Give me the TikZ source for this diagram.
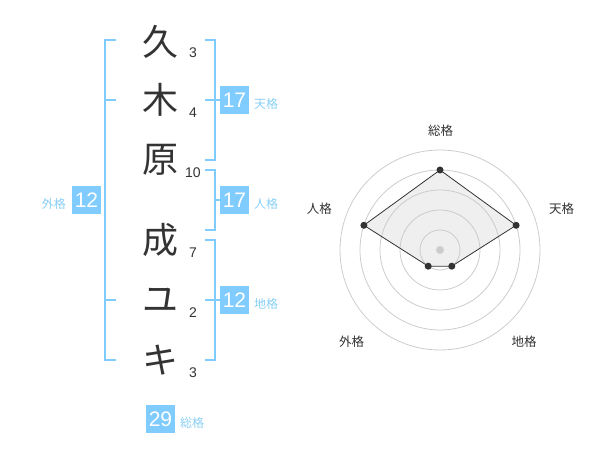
\documentclass[tikz,border=0pt]{standalone}
\usepackage{fontspec}
\setmainfont{Noto Sans CJK JP}
\newfontfamily\cjk{Noto Sans CJK JP}
\newfontfamily\num{Liberation Sans}
\definecolor{blu}{HTML}{80CCFF}
\definecolor{blutext}{HTML}{88CFF5}
\definecolor{ink}{HTML}{333333}
\definecolor{ring}{HTML}{CCCCCC}
\definecolor{polyfill}{HTML}{EFEFEF}
\begin{document}
\begin{tikzpicture}[x=1pt,y=-1pt,
  kanji/.style={font=\cjk\fontsize{36}{36}\selectfont, text=ink, inner sep=0pt},
  strokes/.style={font=\num\fontsize{14}{14}\selectfont, text=ink, inner sep=0pt},
  brk/.style={draw=blu, line width=2pt},
  valbox/.style={fill=blu, text=white, minimum width=29pt, minimum height=28.5pt, inner sep=0pt, font=\num\fontsize{21}{21}\selectfont},
  kaku/.style={text=blutext, font=\cjk\fontsize{12}{12}\selectfont, inner sep=0pt},
  rlabel/.style={text=ink, font=\cjk\fontsize{12.5}{12.5}\selectfont, inner sep=0pt},
  dot/.style={circle, fill=ink, inner sep=0pt, minimum size=7pt}]
\useasboundingbox (0,0) rectangle (600,470);
% characters
\node[kanji] (c1) at (160,42) {久};
\node[kanji] (c2) at (160,100) {木};
\node[kanji] (c3) at (160,160) {原};
\node[kanji] (c4) at (160,240) {成};
\node[kanji] (c5) at (160,300) {ユ};
\node[kanji] (c6) at (160,360) {キ};
\node[strokes] (s1) at (193,53) {3};
\node[strokes] (s2) at (193,113) {4};
\node[strokes] (s3) at (193,173) {10};
\node[strokes] (s4) at (193,253) {7};
\node[strokes] (s5) at (193,313) {2};
\node[strokes] (s6) at (193,373) {3};
% brackets
\draw[brk] (116,40) -- (105,40) -- (105,360) -- (116,360);
\draw[brk] (105,100) -- (116,100);
\draw[brk] (105,300) -- (116,300);
\draw[brk] (205,40) -- (215,40) -- (215,160) -- (205,160);
\draw[brk] (205,100) -- (220,100);
\draw[brk] (205,170) -- (215,170) -- (215,230) -- (205,230);
\draw[brk] (215,200) -- (220,200);
\draw[brk] (205,240) -- (215,240) -- (215,360) -- (205,360);
\draw[brk] (205,300) -- (220,300);
% value boxes
\node[valbox] (ten) at (234.5,100) {17};
\node[kaku, anchor=west] (tenl) at (254,104) {天格};
\node[valbox] (jin) at (234.5,200) {17};
\node[kaku, anchor=west] (jinl) at (254,204) {人格};
\node[valbox] (chi) at (234.5,300) {12};
\node[kaku, anchor=west] (chil) at (254,304) {地格};
\node[valbox] (gai) at (86.5,200) {12};
\node[kaku, anchor=east] (gail) at (66,204) {外格};
\node[valbox] (sou) at (160.5,419) {29};
\node[kaku, anchor=west] (soul) at (180,423) {総格};
% radar
\coordinate (o) at (440,250);
\coordinate (p1) at (440,170);
\coordinate (p2) at (516.1,225.3);
\coordinate (p3) at (451.8,266.2);
\coordinate (p4) at (428.2,266.2);
\coordinate (p5) at (363.9,225.3);
\fill[polyfill] (p1) -- (p2) -- (p3) -- (p4) -- (p5) -- cycle;
\foreach \r in {20,40,60,80,100} \draw[ring, line width=0.8pt] (o) circle[radius=\r];
\draw[draw=ink, line width=0.8pt] (p1) -- (p2) -- (p3) -- (p4) -- (p5) -- cycle;
\node[circle, fill=ring, inner sep=0pt, minimum size=8pt] (ctr) at (o) {};
\foreach \p in {p1,p2,p3,p4,p5} \node[dot] at (\p) {};
\node[rlabel] (l1) at (440.7,130.5) {総格};
\node[rlabel] (l2) at (561.7,208.3) {天格};
\node[rlabel] (l3) at (524,341.7) {地格};
\node[rlabel] (l4) at (351.7,341.7) {外格};
\node[rlabel] (l5) at (319.3,208.3) {人格};
\end{tikzpicture}
\end{document}
